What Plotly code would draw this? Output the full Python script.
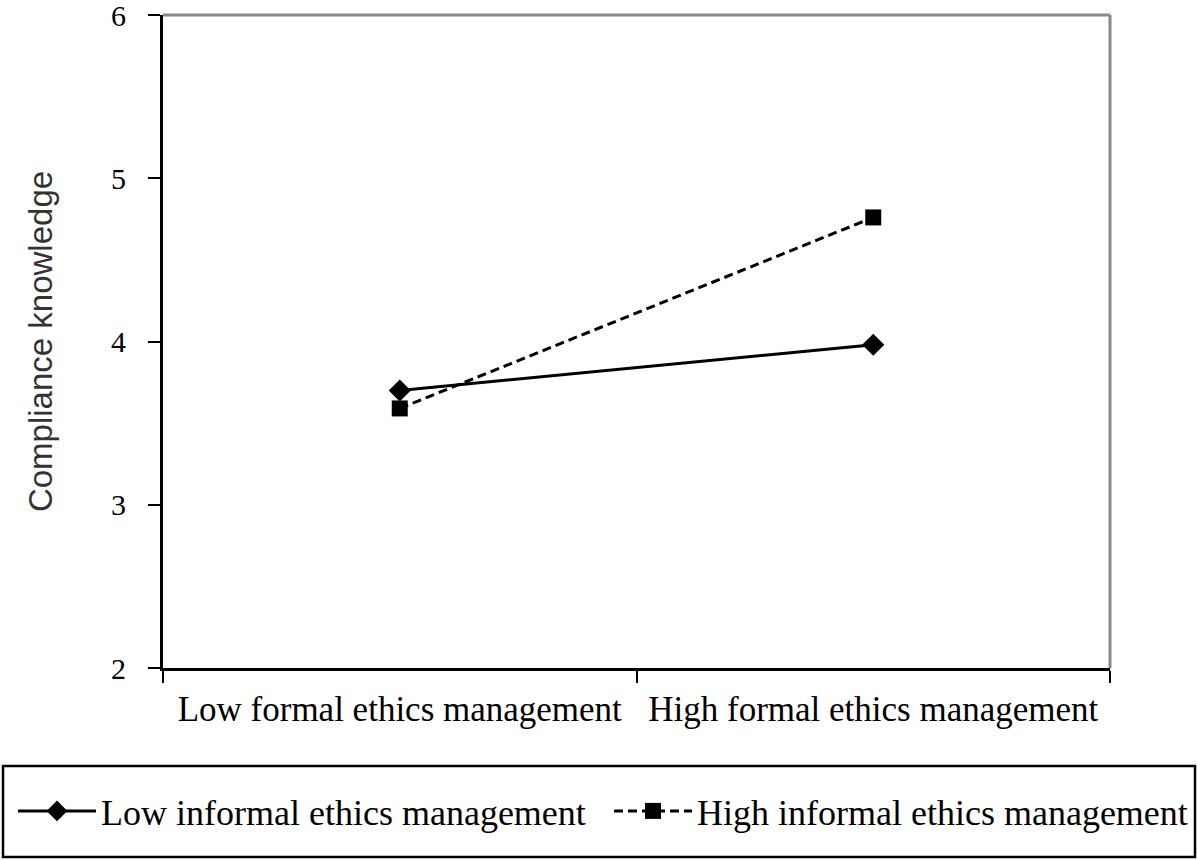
import plotly.graph_objects as go

categories = ["Low formal ethics management", "High formal ethics management"]
low_informal = [3.70, 3.98]
high_informal = [3.59, 4.76]
series_names = ["Low informal ethics management", "High informal ethics management"]
y_ticks = [2, 3, 4, 5, 6]

W, H = 1198, 860
L, R, T, B = 163, 88, 15, 192
pw, ph = W - L - R, H - T - B

def px_x(p):
    return (p - L) / pw

def px_y(p):
    return (H - B - p) / ph

serif = "Liberation Serif, Times New Roman, serif"

fig = go.Figure()
fig.add_trace(go.Scatter(
    x=categories, y=low_informal, name=series_names[0], mode="lines+markers",
    line=dict(color="black", width=3),
    marker=dict(symbol="diamond", size=17, color="black"),
    legend="legend",
))
fig.add_trace(go.Scatter(
    x=categories, y=high_informal, name=series_names[1], mode="lines+markers",
    line=dict(color="black", width=3, dash="9px,5px"),
    marker=dict(symbol="square", size=16, color="black"),
    legend="legend2",
))

legend_common = dict(
    orientation="h", xanchor="left", y=px_y(811), yanchor="middle",
    font=dict(family=serif, size=36, color="black"),
    bgcolor="rgba(0,0,0,0)", borderwidth=0, itemwidth=78,
)

fig.update_layout(
    width=W, height=H,
    margin=dict(l=L, r=R, t=T, b=B, autoexpand=False),
    paper_bgcolor="white", plot_bgcolor="white",
    showlegend=True,
    legend=dict(x=px_x(13), **legend_common),
    legend2=dict(x=px_x(609), **legend_common),
    xaxis=dict(
        type="category", range=[-0.5, 1.5], tickson="boundaries",
        ticks="outside", ticklen=12, tickwidth=2, tickcolor="black",
        showline=True, linecolor="black", linewidth=3,
        showgrid=False, zeroline=False, automargin=False,
        tickfont=dict(family=serif, size=35, color="black"),
        ticklabelstandoff=8,
    ),
    yaxis=dict(
        range=[2, 6], tickvals=y_ticks,
        ticks="outside", ticklen=12, tickwidth=2, tickcolor="black",
        showline=True, linecolor="black", linewidth=3,
        showgrid=False, zeroline=False, automargin=False,
        ticklabeloverflow="allow",
        tickfont=dict(family=serif, size=30, color="black"),
        ticklabelstandoff=16,
        title=dict(text="Compliance knowledge", standoff=49,
                   font=dict(family="Liberation Sans, Arial, sans-serif", size=33, color="#333")),
    ),
    shapes=[
        dict(type="line", xref="paper", yref="paper", x0=0, x1=1, y0=1, y1=1,
             line=dict(color="#888888", width=3)),
        dict(type="line", xref="paper", yref="paper", x0=1, x1=1, y0=0, y1=1,
             line=dict(color="#888888", width=3)),
        dict(type="rect", xref="paper", yref="paper",
             x0=px_x(3), x1=px_x(1195), y0=px_y(857), y1=px_y(766),
             line=dict(color="black", width=2.5), fillcolor="rgba(0,0,0,0)"),
    ],
)

fig.write_html("out.html", config={"displayModeBar": False},
               post_script="document.body.style.margin='0px';document.body.style.overflow='hidden';")
